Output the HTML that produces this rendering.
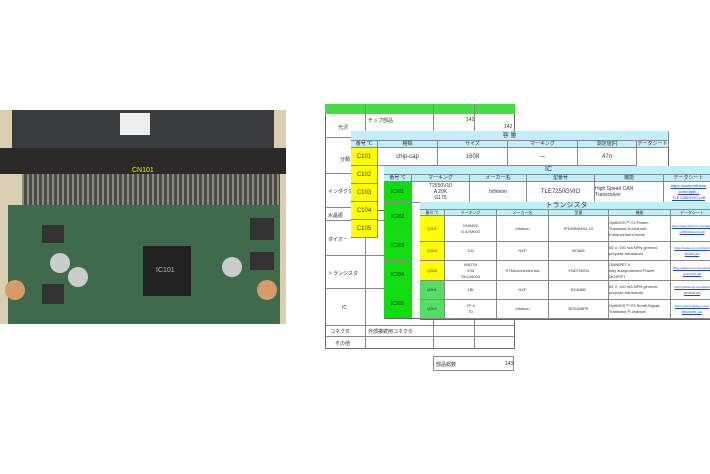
<!DOCTYPE html>
<html><head><meta charset="utf-8"><style>
*{margin:0;padding:0;box-sizing:border-box}
body{width:710px;height:474px;background:#fff;position:relative;overflow:hidden;font-family:"Liberation Sans","Noto Sans CJK JP",sans-serif;font-size:5px;color:#333}
.a{position:absolute}
.t{position:absolute;border:1px solid #666;background:#fff}
.c{position:absolute;display:flex;align-items:center;justify-content:center;text-align:center;border-right:1px solid #888;border-bottom:1px solid #888;font-size:5px;line-height:6px}
.h{background:#bfeff8}
.y{background:#ffff00}
.g{background:#11dd11}
.lg{background:#55dd66}
.lnk{color:#2244cc;text-decoration:underline}
</style></head><body>
<!-- photo -->
<div class="a" style="left:0;top:110px;width:286px;height:214px;background:#d8cfb0"></div>
<div class="a" style="left:12px;top:110px;width:262px;height:48px;background:#3a3b3d"></div>
<div class="a" style="left:120px;top:113px;width:30px;height:22px;background:#eee"></div>
<div class="a" style="left:0;top:148px;width:286px;height:26px;background:#2c2a28"></div>
<div class="a" style="left:22px;top:174px;width:258px;height:34px;background:repeating-linear-gradient(90deg,#8a8c80 0 2px,#4a4d46 2px 5px)"></div>
<div class="a" style="left:8px;top:205px;width:272px;height:119px;background:#3f6b4c"></div>
<div class="a" style="left:143px;top:246px;width:48px;height:50px;background:#222"><span style="color:#bbb;font-size:7px;position:absolute;left:13px;top:21px">IC101</span></div>
<div class="a" style="left:42px;top:225px;width:22px;height:18px;background:#333"></div>
<div class="a" style="left:250px;top:218px;width:24px;height:22px;background:#333"></div>
<div class="a" style="left:250px;top:252px;width:24px;height:18px;background:#333"></div>
<div class="a" style="left:42px;top:284px;width:22px;height:20px;background:#333"></div>
<div class="a" style="left:50px;top:253px;width:20px;height:20px;border-radius:50%;background:#ccc"></div>
<div class="a" style="left:68px;top:267px;width:20px;height:20px;border-radius:50%;background:#ccc"></div>
<div class="a" style="left:222px;top:257px;width:20px;height:20px;border-radius:50%;background:#ccc"></div>
<div class="a" style="left:5px;top:280px;width:20px;height:20px;border-radius:50%;background:#d49a6a"></div>
<div class="a" style="left:257px;top:280px;width:20px;height:20px;border-radius:50%;background:#d49a6a"></div>
<div class="a" style="left:132px;top:167px;color:#ee0;font-size:7px">CN101</div>

<!-- back table -->
<div class="t" style="left:325px;top:104px;width:190px;height:245px"></div>
<div class="a" style="left:325px;top:104px;width:190px;height:10px;background:#44dd44"></div>
<div class="a" style="left:365px;top:104px;width:1px;height:245px;background:#888"></div>
<div class="a" style="left:433px;top:104px;width:1px;height:245px;background:#888"></div>
<div class="a" style="left:474px;top:104px;width:1px;height:245px;background:#888"></div>
<div class="a" style="left:325px;top:137px;width:190px;height:1px;background:#888"></div>
<div class="a" style="left:325px;top:173px;width:190px;height:1px;background:#888"></div>
<div class="a" style="left:325px;top:207px;width:190px;height:1px;background:#888"></div>
<div class="a" style="left:325px;top:220px;width:190px;height:1px;background:#888"></div>
<div class="a" style="left:325px;top:255px;width:190px;height:1px;background:#888"></div>
<div class="a" style="left:325px;top:288px;width:190px;height:1px;background:#888"></div>
<div class="a" style="left:325px;top:325px;width:190px;height:1px;background:#888"></div>
<div class="a" style="left:325px;top:336px;width:190px;height:1px;background:#888"></div>
<div class="a" style="left:338px;top:124px">光沢</div>
<div class="a" style="left:340px;top:156px">分類</div>
<div class="a" style="left:328px;top:188px">インダクタ</div>
<div class="a" style="left:328px;top:212px">水晶振</div>
<div class="a" style="left:328px;top:236px">ダイオー</div>
<div class="a" style="left:328px;top:270px">トランジスタ</div>
<div class="a" style="left:342px;top:305px">IC</div>
<div class="a" style="left:330px;top:328px">コネクタ</div>
<div class="a" style="left:335px;top:340px">その他</div>
<div class="a" style="left:368px;top:117px">チップ部品</div>
<div class="a" style="left:368px;top:328px">外部接続用コネクタ</div>
<div class="a" style="left:466px;top:117px">142</div>
<div class="a" style="left:504px;top:124px">142</div>
<div class="t" style="left:433px;top:356px;width:81px;height:15px;border-color:#888"></div>
<div class="a" style="left:436px;top:361px">部品総数</div>
<div class="a" style="left:505px;top:361px">143</div>

<!-- capacitor table -->
<div class="t" style="left:351px;top:131px;width:318px;height:80px"></div>
<div class="c h" style="left:351px;top:131px;width:318px;height:10px;font-size:6px">容 量</div>
<div class="c h" style="left:351px;top:141px;width:27px;height:7px">番号 ℃</div>
<div class="c h" style="left:378px;top:141px;width:60px;height:7px">種類</div>
<div class="c h" style="left:438px;top:141px;width:70px;height:7px">サイズ</div>
<div class="c h" style="left:508px;top:141px;width:70px;height:7px">マーキング</div>
<div class="c h" style="left:578px;top:141px;width:59px;height:7px">測定値[F]</div>
<div class="c h" style="left:637px;top:141px;width:32px;height:7px">データシート</div>
<div class="c" style="left:378px;top:148px;width:60px;height:18px;font-size:6px">chip-cap</div>
<div class="c" style="left:438px;top:148px;width:70px;height:18px;font-size:6px">1608</div>
<div class="c" style="left:508px;top:148px;width:70px;height:18px;font-size:6px">—</div>
<div class="c" style="left:578px;top:148px;width:59px;height:18px;font-size:6px">47n</div>
<div class="c y" style="left:351px;top:148px;width:27px;height:18px;font-size:6px">C101</div>
<div class="c y" style="left:351px;top:166px;width:27px;height:18px;font-size:6px">C102</div>
<div class="c y" style="left:351px;top:184px;width:27px;height:18px;font-size:6px">C103</div>
<div class="c y" style="left:351px;top:202px;width:27px;height:18px;font-size:6px">C104</div>
<div class="c y" style="left:351px;top:220px;width:27px;height:18px;font-size:6px">C105</div>

<!-- IC table -->
<div class="t" style="left:384px;top:166px;width:330px;height:153px"></div>
<div class="c h" style="left:384px;top:166px;width:330px;height:9px;font-size:7px">IC</div>
<div class="c h" style="left:384px;top:175px;width:28px;height:7px">番号 ℃</div>
<div class="c h" style="left:412px;top:175px;width:58px;height:7px">マーキング</div>
<div class="c h" style="left:470px;top:175px;width:57px;height:7px">メーカー名</div>
<div class="c h" style="left:527px;top:175px;width:68px;height:7px">型番号</div>
<div class="c h" style="left:595px;top:175px;width:69px;height:7px">機能</div>
<div class="c h" style="left:664px;top:175px;width:50px;height:7px">データシート</div>
<div class="c" style="left:412px;top:182px;width:58px;height:21px">T2550V10<br>A 20K<br>G175</div>
<div class="c" style="left:470px;top:182px;width:57px;height:21px">Infineon</div>
<div class="c" style="left:527px;top:182px;width:68px;height:21px;font-size:6px">TLE7250GVIO</div>
<div class="c" style="left:595px;top:182px;width:69px;height:21px;justify-content:flex-start;text-align:left">High Speed CAN<br>Transceiver</div>
<div class="c lnk" style="left:664px;top:182px;width:50px;height:21px;font-size:4px">https://www.infineon<br>.com/dgdl/...<br>TLE7250GVIO.pdf</div>
<div class="c g" style="left:384px;top:182px;width:28px;height:21px">IC201</div>
<div class="c g" style="left:384px;top:203px;width:28px;height:29px">IC202</div>
<div class="c g" style="left:384px;top:232px;width:28px;height:29px">IC203</div>
<div class="c g" style="left:384px;top:261px;width:28px;height:29px">IC204</div>
<div class="c g" style="left:384px;top:290px;width:28px;height:28px">IC205</div>

<!-- transistor table -->
<div class="t" style="left:420px;top:202px;width:294px;height:118px"></div>
<div class="c h" style="left:420px;top:202px;width:294px;height:8px;font-size:7px">トランジスタ</div>
<div class="c h" style="left:420px;top:210px;width:25px;height:6px;font-size:4px">番号 ℃</div>
<div class="c h" style="left:445px;top:210px;width:52px;height:6px;font-size:4px">マーキング</div>
<div class="c h" style="left:497px;top:210px;width:52px;height:6px;font-size:4px">メーカー名</div>
<div class="c h" style="left:549px;top:210px;width:60px;height:6px;font-size:4px">型番</div>
<div class="c h" style="left:609px;top:210px;width:62px;height:6px;font-size:4px">機能</div>
<div class="c h" style="left:671px;top:210px;width:43px;height:6px;font-size:4px">データシート</div>

<div class="c y" style="left:420px;top:216px;width:25px;height:26px;font-size:4px">Q301</div>
<div class="c" style="left:445px;top:216px;width:52px;height:26px;font-size:4px">KN0405<br>G A7M002</div>
<div class="c" style="left:497px;top:216px;width:52px;height:26px;font-size:4px">Infineon</div>
<div class="c" style="left:549px;top:216px;width:60px;height:26px;font-size:4px">IPD50N04S4-10</div>
<div class="c" style="left:609px;top:216px;width:62px;height:26px;font-size:4px;justify-content:flex-start;text-align:left">OptiMOS™-T2 Power-<br>Transistor N-channel -<br>Enhancement mode</div>
<div class="c lnk" style="left:671px;top:216px;width:43px;height:26px;font-size:3px">https://www.infineon.com/dgdl/<br>ipd50n04s4-10.pdf</div>

<div class="c y" style="left:420px;top:242px;width:25px;height:19px;font-size:4px">Q302</div>
<div class="c" style="left:445px;top:242px;width:52px;height:19px;font-size:4px">1Gt</div>
<div class="c" style="left:497px;top:242px;width:52px;height:19px;font-size:4px">NXP</div>
<div class="c" style="left:549px;top:242px;width:60px;height:19px;font-size:4px">BC846</div>
<div class="c" style="left:609px;top:242px;width:62px;height:19px;font-size:4px;justify-content:flex-start;text-align:left">65 V, 100 mA NPN general-<br>purpose transistors</div>
<div class="c lnk" style="left:671px;top:242px;width:43px;height:19px;font-size:3px">https://www.nxp.com/docs/<br>BC846.pdf</div>

<div class="c y" style="left:420px;top:261px;width:25px;height:20px;font-size:4px">Q303</div>
<div class="c" style="left:445px;top:261px;width:52px;height:20px;font-size:4px">VND7N<br>V04<br>GKL26003</div>
<div class="c" style="left:497px;top:261px;width:52px;height:20px;font-size:4px">STMicroelectronics</div>
<div class="c" style="left:549px;top:261px;width:60px;height:20px;font-size:4px">VND7NV04</div>
<div class="c" style="left:609px;top:261px;width:62px;height:20px;font-size:4px;justify-content:flex-start;text-align:left">OMNIFET II<br>fully autoprotected Power<br>MOSFET</div>
<div class="c lnk" style="left:671px;top:261px;width:43px;height:20px;font-size:3px">https://www.st.com/resource/<br>vnd7nv04.pdf</div>

<div class="c lg" style="left:420px;top:281px;width:25px;height:19px;font-size:4px">Q901</div>
<div class="c" style="left:445px;top:281px;width:52px;height:19px;font-size:4px">1Bt</div>
<div class="c" style="left:497px;top:281px;width:52px;height:19px;font-size:4px">NXP</div>
<div class="c" style="left:549px;top:281px;width:60px;height:19px;font-size:4px">BC846B</div>
<div class="c" style="left:609px;top:281px;width:62px;height:19px;font-size:4px;justify-content:flex-start;text-align:left">65 V, 100 mA NPN general-<br>purpose transistors</div>
<div class="c lnk" style="left:671px;top:281px;width:43px;height:19px;font-size:3px">https://www.nxp.com/docs/<br>BC846B.pdf</div>

<div class="c lg" style="left:420px;top:300px;width:25px;height:19px;font-size:4px">Q902</div>
<div class="c" style="left:445px;top:300px;width:52px;height:19px;font-size:4px">YF s<br>7D</div>
<div class="c" style="left:497px;top:300px;width:52px;height:19px;font-size:4px">Infineon</div>
<div class="c" style="left:549px;top:300px;width:60px;height:19px;font-size:4px">BSS308PE</div>
<div class="c" style="left:609px;top:300px;width:62px;height:19px;font-size:4px;justify-content:flex-start;text-align:left">OptiMOS™ P3 Small-Signal-<br>Transistor P-channel</div>
<div class="c lnk" style="left:671px;top:300px;width:43px;height:19px;font-size:3px">https://www.infineon.com/<br>BSS308PE.pdf</div>
</body></html>
